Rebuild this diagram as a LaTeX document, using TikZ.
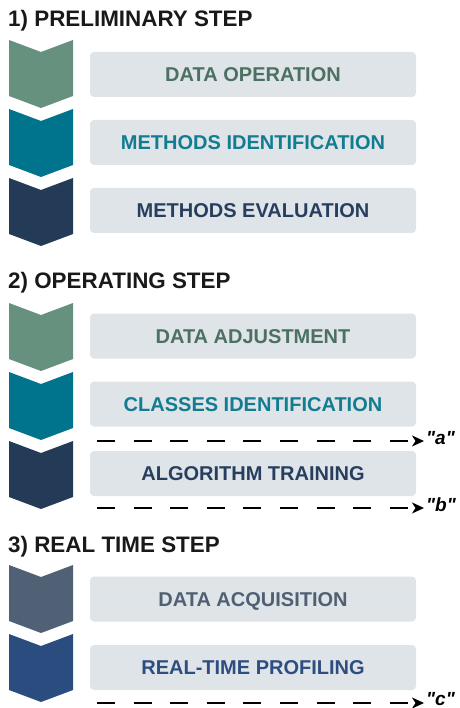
\documentclass[tikz,border=0pt]{standalone}
\usepackage{fontspec}
\setmainfont{Liberation Sans}
\newfontfamily\tagfont{Liberation Sans}[Ligatures=TeXOff]
\usetikzlibrary{arrows.meta}

\definecolor{sage}{RGB}{102,145,126}
\definecolor{sagetxt}{RGB}{76,112,97}
\definecolor{petrol}{RGB}{0,116,140}
\definecolor{petroltxt}{RGB}{18,124,145}
\definecolor{navy}{RGB}{35,59,86}
\definecolor{navytxt}{RGB}{40,62,94}
\definecolor{slate}{RGB}{80,97,117}
\definecolor{slatetxt}{RGB}{80,96,114}
\definecolor{royal}{RGB}{43,76,126}
\definecolor{royaltxt}{RGB}{46,77,128}
\definecolor{boxgray}{RGB}{222,228,232}

\tikzset{
  header/.style={anchor=base west, inner sep=0pt, text=black!90,
    font=\fontsize{22.4}{26}\selectfont\bfseries},
  task/.style={fill=boxgray, rounded corners=4pt, minimum width=326pt,
    minimum height=45pt, inner sep=0pt, text height=14.4pt, text depth=0pt,
    font=\fontsize{20}{24}\selectfont\bfseries},
  flow/.style={line width=1.7pt, dash pattern=on 18pt off 18.6pt,
    -{Stealth[length=12pt,width=11pt,inset=3.5pt]}},
  tag/.style={anchor=west, inner sep=2pt,
    font=\tagfont\fontsize{19}{22}\selectfont\bfseries\itshape},
  chevron/.pic={\fill (-32,0) -- (0,12) -- (32,0) -- (32,56) -- (0,68) -- (-32,56) -- cycle;}
}

\begin{document}
\begin{tikzpicture}[x=1pt,y=-1pt]
\useasboundingbox (0,0) rectangle (459,708);

% 1) preliminary
\node[header] (h1) at (8,27) {1) PRELIMINARY STEP};
\pic[fill=sage] at (41,40) {chevron};
\pic[fill=petrol] at (41,109) {chevron};
\pic[fill=navy] at (41,178) {chevron};
\node[task,text=sagetxt] (dop) at (253,74.5) {DATA OPERATION};
\node[task,text=petroltxt] (mid) at (253,142.5) {METHODS IDENTIFICATION};
\node[task,text=navytxt] (mev) at (253,210.5) {METHODS EVALUATION};

% 2) operating
\node[header] (h2) at (8,288) {2) OPERATING STEP};
\pic[fill=sage] at (41,303) {chevron};
\pic[fill=petrol] at (41,372) {chevron};
\pic[fill=navy] at (41,441) {chevron};
\node[task,text=sagetxt] (dad) at (253,336) {DATA ADJUSTMENT};
\node[task,text=petroltxt] (cid) at (253,404) {CLASSES IDENTIFICATION};
\node[task,text=navytxt] (atr) at (253,473.5) {ALGORITHM TRAINING};

\coordinate (sa) at (97,441);
\node[tag] (la) at (424,438) {"a"};
\draw[flow] (sa) -- (sa -| la.west);
\coordinate (sb) at (97,508);
\node[tag] (lb) at (424,505) {"b"};
\draw[flow] (sb) -- (sb -| lb.west);

% 3) real time
\node[header] (h3) at (8,552) {3) REAL TIME STEP};
\pic[fill=slate] at (41,565) {chevron};
\pic[fill=royal] at (41,634) {chevron};
\node[task,text=slatetxt] (dac) at (253,599) {DATA ACQUISITION};
\node[task,text=royaltxt] (rtp) at (253,667.5) {REAL-TIME PROFILING};

\coordinate (sc) at (97,703);
\node[tag] (lc) at (424,699) {"c"};
\draw[flow] (sc) -- (sc -| lc.west);

\end{tikzpicture}
\end{document}
